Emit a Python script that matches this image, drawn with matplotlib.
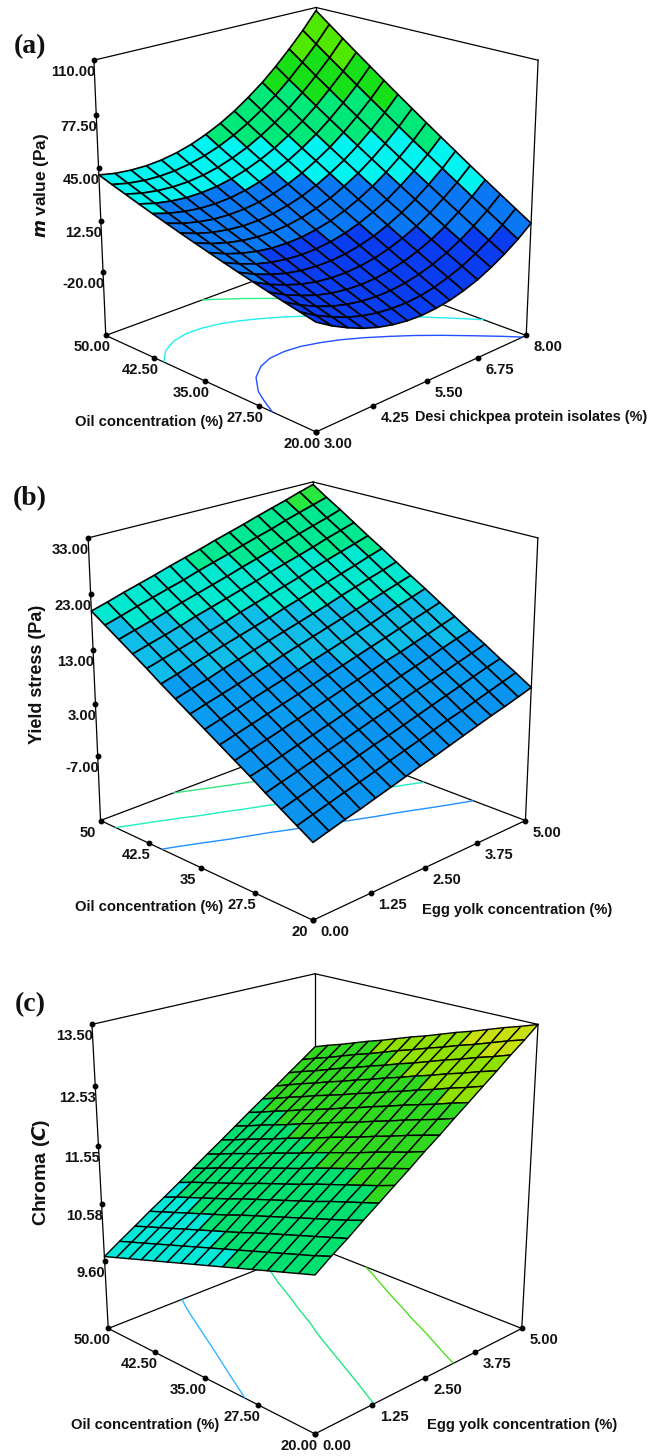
import numpy as np
import matplotlib
matplotlib.use('Agg')
import matplotlib.pyplot as plt
from matplotlib.colors import ListedColormap, BoundaryNorm
from mpl_toolkits.mplot3d import proj3d

# Values
oil = [50, 48, 46, 44, 42, 40, 38, 36, 34, 32, 30, 28, 26, 24, 22, 20]
protein = [3.00, 3.33, 3.67, 4.00, 4.33, 4.67, 5.00, 5.33, 5.67, 6.00, 6.33, 6.67, 7.00, 7.33, 7.67, 8.00]
egg = [0.00, 0.33, 0.67, 1.00, 1.33, 1.67, 2.00, 2.33, 2.67, 3.00, 3.33, 3.67, 4.00, 4.33, 4.67, 5.00]

m_value = [
    [41.0, 39.1, 38.2, 38.1, 38.9, 40.7, 43.3, 46.9, 51.4, 56.7, 63.0, 70.2, 78.3, 87.3, 97.2, 108.0],
    [38.0, 35.9, 34.6, 34.3, 34.9, 36.4, 38.8, 42.0, 46.3, 51.4, 57.4, 64.3, 72.1, 80.9, 90.5, 101.1],
    [35.1, 32.7, 31.2, 30.6, 30.9, 32.1, 34.2, 37.3, 41.2, 46.1, 51.8, 58.5, 66.1, 74.5, 83.9, 94.2],
    [32.2, 29.5, 27.8, 26.9, 27.0, 27.9, 29.8, 32.6, 36.3, 40.8, 46.3, 52.7, 60.0, 68.3, 77.4, 87.4],
    [29.4, 26.5, 24.5, 23.3, 23.1, 23.8, 25.4, 27.9, 31.4, 35.7, 40.9, 47.1, 54.1, 62.0, 70.9, 80.7],
    [26.7, 23.5, 21.2, 19.8, 19.4, 19.8, 21.1, 23.4, 26.5, 30.6, 35.6, 41.4, 48.2, 55.9, 64.5, 74.0],
    [24.0, 20.6, 18.0, 16.4, 15.6, 15.8, 16.9, 18.9, 21.8, 25.6, 30.3, 35.9, 42.4, 49.8, 58.2, 67.4],
    [21.4, 17.7, 14.9, 13.0, 12.0, 11.9, 12.7, 14.4, 17.1, 20.6, 25.1, 30.4, 36.7, 43.8, 51.9, 60.9],
    [18.9, 14.9, 11.8, 9.7, 8.4, 8.1, 8.6, 10.1, 12.4, 15.7, 19.9, 25.0, 31.0, 37.9, 45.7, 54.4],
    [16.4, 12.2, 8.8, 6.4, 4.9, 4.3, 4.6, 5.8, 7.9, 10.9, 14.8, 19.6, 25.4, 32.0, 39.6, 48.0],
    [14.0, 9.5, 5.9, 3.2, 1.4, 0.6, 0.6, 1.5, 3.4, 6.1, 9.8, 14.4, 19.8, 26.2, 33.5, 41.7],
    [11.7, 6.9, 3.1, 0.1, -2.0, -3.1, -3.3, -2.6, -1.1, 1.4, 4.8, 9.1, 14.3, 20.5, 27.5, 35.4],
    [9.4, 4.4, 0.3, -3.0, -5.3, -6.7, -7.2, -6.8, -5.4, -3.2, -0.1, 4.0, 8.9, 14.8, 21.5, 29.2],
    [7.2, 1.9, -2.5, -6.0, -8.5, -10.2, -10.9, -10.8, -9.7, -7.8, -4.9, -1.1, 3.6, 9.2, 15.7, 23.1],
    [5.1, -0.5, -5.1, -8.9, -11.7, -13.6, -14.6, -14.8, -14.0, -12.3, -9.6, -6.1, -1.7, 3.6, 9.9, 17.0],
    [3.0, -2.8, -7.7, -11.7, -14.8, -17.0, -18.3, -18.7, -18.1, -16.7, -14.3, -11.1, -6.9, -1.9, 4.1, 11.0],
]

yield_stress = [
    [20.0, 20.8, 21.7, 22.5, 23.3, 24.2, 25.0, 25.8, 26.7, 27.5, 28.3, 29.2, 30.0, 30.8, 31.7, 32.5],
    [18.3, 19.1, 20.0, 20.8, 21.6, 22.4, 23.3, 24.1, 24.9, 25.8, 26.6, 27.4, 28.3, 29.1, 29.9, 30.7],
    [16.6, 17.4, 18.2, 19.0, 19.9, 20.7, 21.5, 22.3, 23.2, 24.0, 24.8, 25.7, 26.5, 27.3, 28.1, 29.0],
    [14.9, 15.7, 16.5, 17.3, 18.2, 19.0, 19.8, 20.6, 21.4, 22.3, 23.1, 23.9, 24.7, 25.6, 26.4, 27.2],
    [13.2, 14.0, 14.8, 15.6, 16.4, 17.2, 18.1, 18.9, 19.7, 20.5, 21.3, 22.2, 23.0, 23.8, 24.6, 25.4],
    [11.4, 12.2, 13.1, 13.9, 14.7, 15.5, 16.3, 17.1, 18.0, 18.8, 19.6, 20.4, 21.2, 22.0, 22.9, 23.7],
    [9.7, 10.5, 11.3, 12.2, 13.0, 13.8, 14.6, 15.4, 16.2, 17.0, 17.8, 18.7, 19.5, 20.3, 21.1, 21.9],
    [8.0, 8.8, 9.6, 10.4, 11.2, 12.0, 12.9, 13.7, 14.5, 15.3, 16.1, 16.9, 17.7, 18.5, 19.3, 20.1],
    [6.3, 7.1, 7.9, 8.7, 9.5, 10.3, 11.1, 11.9, 12.7, 13.5, 14.3, 15.1, 16.0, 16.8, 17.6, 18.4],
    [4.6, 5.4, 6.2, 7.0, 7.8, 8.6, 9.4, 10.2, 11.0, 11.8, 12.6, 13.4, 14.2, 15.0, 15.8, 16.6],
    [2.9, 3.7, 4.5, 5.3, 6.1, 6.9, 7.7, 8.5, 9.3, 10.1, 10.9, 11.6, 12.4, 13.2, 14.0, 14.8],
    [1.2, 1.9, 2.7, 3.5, 4.3, 5.1, 5.9, 6.7, 7.5, 8.3, 9.1, 9.9, 10.7, 11.5, 12.3, 13.0],
    [-0.6, 0.2, 1.0, 1.8, 2.6, 3.4, 4.2, 5.0, 5.8, 6.6, 7.4, 8.1, 8.9, 9.7, 10.5, 11.3],
    [-2.3, -1.5, -0.7, 0.1, 0.9, 1.7, 2.5, 3.2, 4.0, 4.8, 5.6, 6.4, 7.2, 8.0, 8.8, 9.5],
    [-4.0, -3.2, -2.4, -1.6, -0.9, -0.1, 0.7, 1.5, 2.3, 3.1, 3.9, 4.6, 5.4, 6.2, 7.0, 7.8],
    [-5.7, -4.9, -4.1, -3.4, -2.6, -1.8, -1.0, -0.2, 0.5, 1.3, 2.1, 2.9, 3.7, 4.4, 5.2, 6.0],
]

chroma = [
    [9.67, 9.84, 10.01, 10.18, 10.34, 10.51, 10.68, 10.85, 11.02, 11.19, 11.36, 11.53, 11.69, 11.86, 12.03, 12.20],
    [9.75, 9.92, 10.09, 10.26, 10.43, 10.60, 10.76, 10.93, 11.10, 11.27, 11.44, 11.61, 11.78, 11.95, 12.12, 12.29],
    [9.83, 10.00, 10.17, 10.34, 10.51, 10.68, 10.85, 11.02, 11.19, 11.36, 11.53, 11.70, 11.87, 12.03, 12.20, 12.37],
    [9.91, 10.08, 10.25, 10.42, 10.59, 10.76, 10.93, 11.10, 11.27, 11.44, 11.61, 11.78, 11.95, 12.12, 12.29, 12.46],
    [9.99, 10.16, 10.33, 10.50, 10.67, 10.84, 11.01, 11.18, 11.35, 11.52, 11.70, 11.87, 12.04, 12.21, 12.38, 12.55],
    [10.07, 10.24, 10.41, 10.58, 10.75, 10.92, 11.10, 11.27, 11.44, 11.61, 11.78, 11.95, 12.12, 12.29, 12.46, 12.63],
    [10.15, 10.32, 10.49, 10.66, 10.84, 11.01, 11.18, 11.35, 11.52, 11.69, 11.86, 12.03, 12.21, 12.38, 12.55, 12.72],
    [10.23, 10.40, 10.57, 10.75, 10.92, 11.09, 11.26, 11.43, 11.60, 11.78, 11.95, 12.12, 12.29, 12.46, 12.64, 12.81],
    [10.31, 10.48, 10.65, 10.83, 11.00, 11.17, 11.34, 11.52, 11.69, 11.86, 12.03, 12.20, 12.38, 12.55, 12.72, 12.89],
    [10.39, 10.56, 10.74, 10.91, 11.08, 11.25, 11.43, 11.60, 11.77, 11.94, 12.12, 12.29, 12.46, 12.63, 12.81, 12.98],
    [10.47, 10.64, 10.82, 10.99, 11.16, 11.34, 11.51, 11.68, 11.85, 12.03, 12.20, 12.37, 12.55, 12.72, 12.89, 13.07],
    [10.55, 10.72, 10.90, 11.07, 11.24, 11.42, 11.59, 11.76, 11.94, 12.11, 12.29, 12.46, 12.63, 12.81, 12.98, 13.15],
    [10.63, 10.80, 10.98, 11.15, 11.33, 11.50, 11.67, 11.85, 12.02, 12.20, 12.37, 12.54, 12.72, 12.89, 13.06, 13.24],
    [10.71, 10.88, 11.06, 11.23, 11.41, 11.58, 11.76, 11.93, 12.11, 12.28, 12.45, 12.63, 12.80, 12.98, 13.15, 13.33],
    [10.79, 10.96, 11.14, 11.31, 11.49, 11.66, 11.84, 12.01, 12.19, 12.36, 12.54, 12.71, 12.89, 13.06, 13.24, 13.41],
    [10.87, 11.05, 11.22, 11.40, 11.57, 11.75, 11.92, 12.10, 12.27, 12.45, 12.62, 12.80, 12.97, 13.15, 13.32, 13.50],
]

# axis ticks
ticks_a_z = [-20.0, 12.5, 45.0, 77.5, 110.0]
labels_a_z = ['-20.00', '12.50', '45.00', '77.50', '110.00']
ticks_a_oil = [50, 42.5, 35, 27.5, 20]
labels_a_oil = ['50.00', '42.50', '35.00', '27.50', '20.00']
ticks_a_y = [3, 4.25, 5.5, 6.75, 8]
labels_a_y = ['3.00', '4.25', '5.50', '6.75', '8.00']

ticks_b_z = [-7, 3, 13, 23, 33]
labels_b_z = ['-7.00', '3.00', '13.00', '23.00', '33.00']
labels_b_oil = ['50', '42.5', '35', '27.5', '20']
ticks_b_y = [0, 1.25, 2.5, 3.75, 5]
labels_b_y = ['0.00', '1.25', '2.50', '3.75', '5.00']

ticks_c_z = [9.60, 10.58, 11.55, 12.53, 13.50]
labels_c_z = ['9.60', '10.58', '11.55', '12.53', '13.50']

# contour bands and the floor contour lines
levels_a = [9, 28, 45, 66, 85, 104]
bands_a = ['#0a3cf0', '#0a78f2', '#00f4f0', '#00e878', '#18e018', '#50e800', '#70f000']
floor_a = [9, 28, 45, 66]
lines_a = ['#2050ff', '#20f0f0', '#30f090', '#30e040']

levels_b = [6, 12, 18, 24, 30]
bands_b = ['#0a94f0', '#0a9cf0', '#10bce8', '#00e8d0', '#00e890', '#28e840']
floor_b = [12, 18, 24, 30]
lines_b = ['#2090ff', '#20f0c0', '#30e880', '#28e840']

levels_c = [10.5, 11.55, 12.55, 13.05]
bands_c = ['#00e8d8', '#00e070', '#30d820', '#90e000', '#c8e010']
floor_c = [10.5, 11.55, 12.55]
lines_c = ['#30b8ff', '#20e880', '#50e020']

FIG_W, FIG_H = 660, 1456
BOLD = 'Liberation Sans'
fig = plt.figure(figsize=(FIG_W / 100, FIG_H / 100), dpi=100, facecolor='white')


def px(x, y):
    return x / FIG_W, 1 - y / FIG_H


def add_box_axes(cx, cy, scale, half_diag, half_h, elev):
    # work out the mplot3d camera from sizes measured on the picture
    side = half_diag * np.sqrt(2)
    ratio = 2 * half_h / side
    box = 1.8294640721620434 * 25 / 24 / np.sqrt(2 + ratio ** 2)
    focal = box / side / 10
    w = scale * 0.185 / focal
    left = cx - 0.095 / 0.185 * w
    bottom = FIG_H - cy - 0.095 / 0.185 * w
    ax = fig.add_axes([left / FIG_W, bottom / FIG_H, w / FIG_W, w / FIG_H],
                      projection='3d', computed_zorder=False)
    ax.set_box_aspect((1, 1, ratio))
    ax.set_proj_type('persp', focal_length=focal)
    ax.view_init(elev=elev, azim=-45)
    ax.set_axis_off()
    ax.set_facecolor('none')
    return ax


def tick_label(ax, x, y, z, s, dx, dy, ha):
    # text goes on the figure, at the spot where the axes project the tick
    ax.apply_aspect()
    xp, yp, _ = proj3d.proj_transform(x, y, z, ax.get_proj())
    wx, wy = ax.transData.transform((xp, yp))
    fig.text((wx + dx) / FIG_W, (wy + dy) / FIG_H, s, ha=ha, va='center', family=BOLD,
             fontweight='bold', fontsize=10.6, color='#111111')


def draw_panel(ax, xs, ys, zs, floor, top, levels, bands, floor_levels, lines,
               z_ticks, z_labels, x_ticks, x_labels, y_ticks, y_labels, dx_x=-14, mesh=1.2):
    X, Y = np.meshgrid(xs, ys, indexing='ij')
    Z = np.array(zs)
    x0, x1 = xs[0], xs[-1]
    y0, y1 = ys[0], ys[-1]
    ax.set_xlim(x0, x1)
    ax.set_ylim(y0, y1)
    ax.set_zlim(floor, top)

    edges = [([x0, x0], [y0, y0], [floor, top]),
             ([x0, x0], [y1, y1], [floor, top]),
             ([x1, x1], [y1, y1], [floor, top]),
             ([x0, x0], [y0, y1], [top, top]),
             ([x0, x1], [y1, y1], [top, top]),
             ([x0, x0], [y0, y1], [floor, floor]),
             ([x0, x1], [y1, y1], [floor, floor]),
             ([x0, x1], [y0, y0], [floor, floor]),
             ([x1, x1], [y0, y1], [floor, floor])]
    for ex, ey, ez in edges:
        ax.plot(ex, ey, ez, color='k', lw=0.9, zorder=1)

    ax.contour(X, Y, Z, levels=floor_levels, colors=lines, linewidths=1.0,
               zdir='z', offset=floor, zorder=2)

    bounds = [-1000] + list(levels) + [1000]
    norm = BoundaryNorm(bounds, len(bands))
    ax.plot_surface(X, Y, Z, cmap=ListedColormap(bands), norm=norm, rstride=1, cstride=1,
                    edgecolor='k', linewidth=mesh, shade=False, zorder=3)

    # tick dots, drawn on the same data axes
    ax.plot([x0] * len(z_ticks), [y0] * len(z_ticks), z_ticks, 'o', color='k', ms=3.2, zorder=4)
    ax.plot(x_ticks, [y0] * len(x_ticks), [floor] * len(x_ticks), 'o', color='k', ms=3.2, zorder=4)
    ax.plot([x1] * len(y_ticks), y_ticks, [floor] * len(y_ticks), 'o', color='k', ms=3.2, zorder=4)

    for t, s in zip(z_ticks, z_labels):
        tick_label(ax, x0, y0, t, s, 1, -12, 'right')
    for t, s in zip(x_ticks, x_labels):
        tick_label(ax, t, y0, floor, s, dx_x, -12, 'center')
    for t, s in zip(y_ticks, y_labels):
        tick_label(ax, x1, t, floor, s, 22, -12, 'center')


def title_text(x, y, s, size=10.6):
    fig.text(*px(x, y), s, ha='center', va='center', family=BOLD, fontweight='bold',
             fontsize=size, color='#111111')


def side_text(x, y, s, size):
    fig.text(*px(x, y), s, ha='center', va='center', rotation=90, family=BOLD,
             fontweight='bold', fontsize=size, color='#111111')


def panel_letter(y, s):
    fig.text(*px(30, y), s, ha='center', va='center', family='Liberation Serif',
             fontweight='bold', fontsize=20, color='#111111')


# panel (a)
ax_a = add_box_axes(316, 201.6, 1800, 0.120, 0.0812, 19.8)
draw_panel(ax_a, oil, protein, m_value, -61, 110, levels_a, bands_a, floor_a, lines_a,
           ticks_a_z, labels_a_z, ticks_a_oil, labels_a_oil, ticks_a_y, labels_a_y)
panel_letter(47, '(a)')
side_text(42, 185, r'$\bfit{m}$ value (Pa)', 12.4)
title_text(149, 422, 'Oil concentration (%)')
title_text(531, 417, 'Desi chickpea protein isolates (%)', 10.4)

# panel (b)
ax_b = add_box_axes(313, 683.2, 1861, 0.1174, 0.081, 20.5)
draw_panel(ax_b, oil, egg, yield_stress, -19.4, 33, levels_b, bands_b, floor_b, lines_b,
           ticks_b_z, labels_b_z, ticks_a_oil, labels_b_oil, ticks_b_y, labels_b_y, dx_x=-13)
panel_letter(499, '(b)')
side_text(37, 674, 'Yield stress (Pa)', 13)
title_text(149, 907, 'Oil concentration (%)')
title_text(517, 910, 'Egg yolk concentration (%)')

# panel (c)
ax_c = add_box_axes(315, 1182.2, 1522, 0.141, 0.1067, 20.8)
draw_panel(ax_c, oil, egg, chroma, 8.39, 13.5, levels_c, bands_c, floor_c, lines_c,
           ticks_c_z, labels_c_z, ticks_a_oil, labels_a_oil, ticks_b_y, labels_b_y, dx_x=-16, mesh=1.0)
panel_letter(1005, '(c)')
side_text(41, 1172, r'Chroma ($\bfit{C}$)', 14)
title_text(145, 1425, 'Oil concentration (%)')
title_text(522, 1425, 'Egg yolk concentration (%)')

plt.savefig('out.png', dpi=100)
